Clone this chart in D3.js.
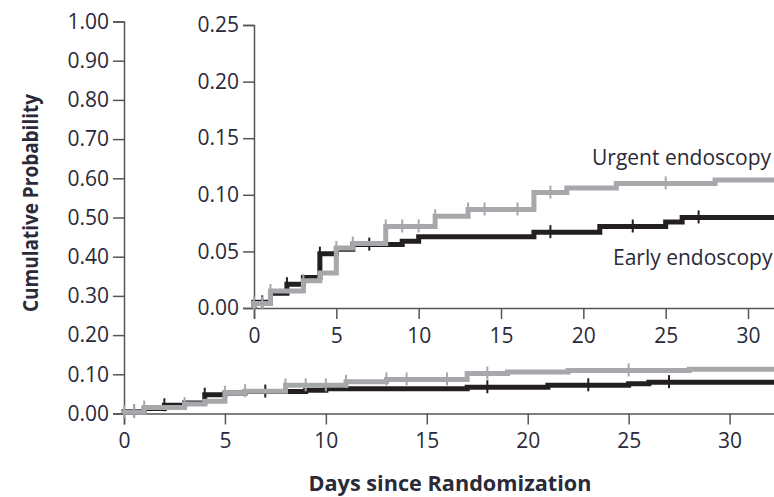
<!DOCTYPE html>
<html>
<head>
<meta charset="utf-8">
<script src="https://cdnjs.cloudflare.com/ajax/libs/d3/7.8.5/d3.min.js"></script>
<style>
    body { margin: 0; background: #fff; }
    text { font-family: "Open Sans", sans-serif; fill: #2a2a38; }
</style>
</head>
<body>
<svg id="chart" width="774" height="497"></svg>
<script>

// step points [day, cumulative probability]
var urgent_days = [0, 1, 3, 4, 5, 6, 8, 11, 13, 17, 19, 22, 28]
var urgent_prob = [0.004, 0.015, 0.024, 0.031, 0.053, 0.057, 0.072, 0.081, 0.087, 0.102, 0.106, 0.110, 0.113]
var early_days = [0, 1, 2, 3, 4, 5, 6, 9, 10, 17, 21, 25, 26]
var early_prob = [0.005, 0.013, 0.021, 0.027, 0.048, 0.052, 0.056, 0.059, 0.063, 0.067, 0.072, 0.076, 0.080]

// censoring marks (days)
var urgent_censor = [0, 0.5, 1, 3, 5, 6, 8, 9, 10, 11, 13, 14, 16, 18, 25]
var early_censor = [0.5, 2, 4, 7, 18, 23, 27]

var main_y_ticks = [0, 0.1, 0.2, 0.3, 0.4, 0.5, 0.6, 0.7, 0.8, 0.9, 1.0]
var inset_y_ticks = [0, 0.05, 0.10, 0.15, 0.20, 0.25]
var x_ticks = [0, 5, 10, 15, 20, 25, 30]

var grey = "#a6a8ab"
var black = "#231f20"
var axis_color = "#555"

var svg = d3.select("#chart")

function step_value(days, probs, d) {
    var v = 0
    for (var i = 0; i < days.length; i++) {
        if (days[i] <= d) v = probs[i]
    }
    return v
}

function draw_panel(g, xScale, yScale, yTicks, yFormat, xMax) {

    // axes
    var yAxis = d3.axisLeft(yScale).tickValues(yTicks).tickFormat(d3.format(yFormat))
        .tickSize(11).tickPadding(4)
    var xAxis = d3.axisBottom(xScale).tickValues(x_ticks).tickFormat(d3.format("d"))
        .tickSize(11).tickPadding(9)

    var ya = g.append("g")
        .attr("transform", "translate(" + xScale(0) + ",0)")
        .call(yAxis)
    var xa = g.append("g")
        .attr("transform", "translate(0," + yScale(0) + ")")
        .call(xAxis)

    ;[ya, xa].forEach(function(a) {
        a.select(".domain").attr("stroke", axis_color).attr("stroke-width", 1.5)
        a.selectAll(".tick line").attr("stroke", axis_color).attr("stroke-width", 1.5)
        a.selectAll(".tick text")
            .style("font-family", "'Open Sans', sans-serif")
            .style("font-size", "21px")
            .attr("fill", "#2a2a38")
    })

    // curves
    var series = [
        { days: early_days, prob: early_prob, censor: early_censor, color: black },
        { days: urgent_days, prob: urgent_prob, censor: urgent_censor, color: grey }
    ]

    var line = d3.line()
        .x(function(d) { return xScale(d[0]) })
        .y(function(d) { return yScale(d[1]) })
        .curve(d3.curveStepAfter)

    series.forEach(function(s) {
        var pts = [[0, 0]]
        for (var i = 0; i < s.days.length; i++) {
            pts.push([s.days[i], s.prob[i]])
        }
        pts.push([xMax, s.prob[s.prob.length - 1]])

        g.append("path")
            .attr("d", line(pts))
            .attr("fill", "none")
            .attr("stroke", s.color)
            .attr("stroke-width", 5)

        for (var j = 0; j < s.censor.length; j++) {
            var cd = s.censor[j]
            var cy = yScale(step_value(s.days, s.prob, cd))
            g.append("line")
                .attr("x1", xScale(cd)).attr("x2", xScale(cd))
                .attr("y1", cy - 7).attr("y2", cy + 6)
                .attr("stroke", s.color)
                .attr("stroke-width", 2)
        }
    })
}

// ############################################
// main panel
var main_max = 32.3
var mainX = d3.scaleLinear().domain([0, main_max]).range([124, 776])
var mainY = d3.scaleLinear().domain([0, 1]).range([413.5, 21.5])
draw_panel(svg.append("g"), mainX, mainY, main_y_ticks, ".2f", main_max)

// ############################################
// inset panel
var inset_max = 31.7
var insetX = d3.scaleLinear().domain([0, inset_max]).range([254, 776])
var insetY = d3.scaleLinear().domain([0, 0.25]).range([308, 25])
draw_panel(svg.append("g"), insetX, insetY, inset_y_ticks, ".2f", inset_max)

// labels
svg.append("text")
    .attr("x", 592).attr("y", 165)
    .style("font-size", "21px")
    .text("Urgent endoscopy")

svg.append("text")
    .attr("x", 613).attr("y", 265)
    .style("font-size", "21px")
    .text("Early endoscopy")

svg.append("text")
    .attr("x", 450).attr("y", 491)
    .attr("text-anchor", "middle")
    .attr("textLength", 283)
    .attr("lengthAdjust", "spacingAndGlyphs")
    .style("font-size", "21px")
    .style("font-weight", "bold")
    .text("Days since Randomization")

svg.append("text")
    .attr("transform", "translate(38,203) rotate(-90)")
    .attr("text-anchor", "middle")
    .attr("textLength", 218)
    .attr("lengthAdjust", "spacingAndGlyphs")
    .style("font-size", "21px")
    .style("font-weight", "bold")
    .text("Cumulative Probability")

</script>
</body>
</html>
